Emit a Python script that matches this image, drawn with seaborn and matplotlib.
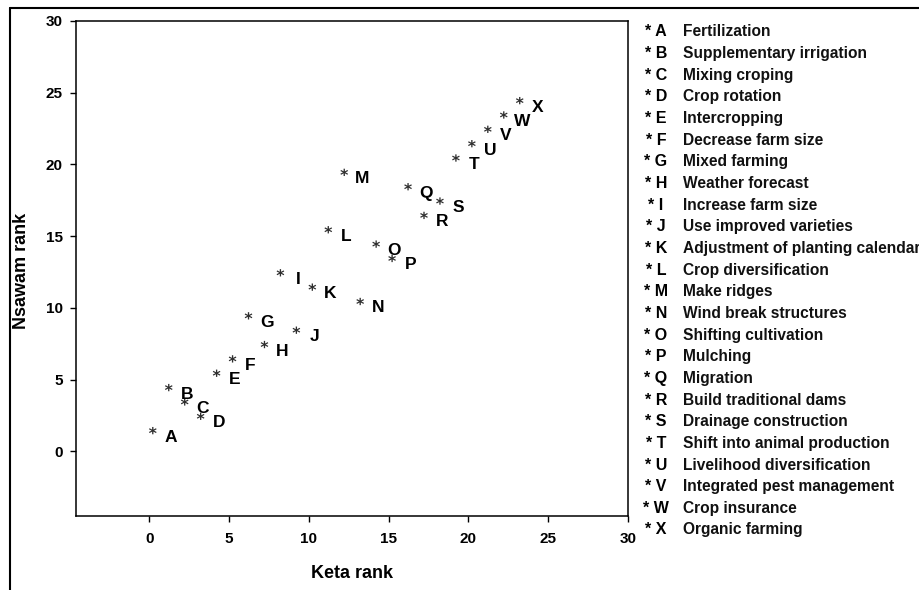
import matplotlib
matplotlib.use("Agg")
import matplotlib.pyplot as plt
import seaborn as sns
import pandas as pd
from matplotlib.markers import MarkerStyle
from matplotlib.transforms import Affine2D
from matplotlib.lines import Line2D

# Ranks of adaptation strategies in the two communities
codes = list("ABCDEFGHIJKLMNOPQRSTUVWX")
keta_rank = [1, 2, 3, 4, 5, 6, 7, 8, 9, 10, 11, 12,
             13, 14, 15, 16, 17, 18, 19, 20, 21, 22, 23, 24]
nsawam_rank = [1, 4, 3, 2, 5, 6, 9, 7, 12, 8, 11, 15,
               19, 10, 14, 13, 18, 16, 17, 20, 21, 22, 23, 24]
strategies = [
    "Fertilization", "Supplementary irrigation", "Mixing croping",
    "Crop rotation", "Intercropping", "Decrease farm size",
    "Mixed farming", "Weather forecast", "Increase farm size",
    "Use improved varieties", "Adjustment of planting calendar",
    "Crop diversification", "Make ridges", "Wind break structures",
    "Shifting cultivation", "Mulching", "Migration",
    "Build traditional dams", "Drainage construction",
    "Shift into animal production", "Livelihood diversification",
    "Integrated pest management", "Crop insurance", "Organic farming",
]
x_ticks = [0, 5, 10, 15, 20, 25, 30]
y_ticks = [0, 5, 10, 15, 20, 25, 30]

df = pd.DataFrame({"code": codes, "keta": keta_rank, "nsawam": nsawam_rank})

sns.set_theme(style="ticks")
plt.rcParams["font.family"] = ["Liberation Sans", "DejaVu Sans"]
plt.rcParams["font.weight"] = "bold"

W, H = 920, 590
fig = plt.figure(figsize=(W / 100, H / 100), dpi=100)
ax = fig.add_axes([76 / W, 1 - 516 / H, (628 - 76) / W, (516 - 21) / H])

# Asterisk marker sitting up and to the left of each point, letter to the right
star = MarkerStyle("$*$", transform=Affine2D().translate(-1.65, 0.85))
sns.scatterplot(data=df, x="keta", y="nsawam", marker=star, s=30,
                color="#2e2e2e", edgecolor="none", linewidth=0,
                legend=False, ax=ax)
for c, xv, yv in zip(df["code"], df["keta"], df["nsawam"]):
    ax.annotate(c, (xv, yv), xytext=(4.0, 0), textcoords="offset points",
                ha="center", va="center", fontsize=12.5,
                fontweight="bold", color="black")

ax.set_xlim(-4.6, 30)
ax.set_ylim(-4.5, 30)
ax.set_xticks(x_ticks)
ax.set_yticks(y_ticks)
ax.set_xticklabels([str(t) for t in x_ticks], fontsize=11,
                   fontweight="bold", color="black")
ax.set_yticklabels([str(t) for t in y_ticks], fontsize=11,
                   fontweight="bold", color="black")
ax.tick_params(axis="both", direction="out", length=4.5, width=1.0,
               color="black")
ax.tick_params(axis="x", pad=7)
ax.tick_params(axis="y", pad=5)
for sp in ax.spines.values():
    sp.set_visible(True)
    sp.set_color("black")
    sp.set_linewidth(1.1)
ax.set_xlabel("")
ax.set_ylabel("")

fig.text(352 / W, 1 - 573 / H, "Keta rank", ha="center", va="center",
         fontsize=13, fontweight="bold", color="black")
fig.text(22 / W, 1 - 271 / H, "Nsawam rank", ha="center", va="center",
         rotation=90, fontsize=13, fontweight="bold", color="black")

# Key of strategy codes on the right
row0, step = 32, 21.65
for i, (c, name) in enumerate(zip(codes, strategies)):
    yy = 1 - (row0 + i * step) / H
    fig.text(656 / W, yy, f"* {c}", ha="center", va="center",
             fontsize=11.5, fontweight="bold", color="black")
    fig.text(683 / W, yy, name, ha="left", va="center",
             fontsize=11.2, fontweight="bold", color="#111111")

# Outer frame lines along the top and left of the figure
fig.add_artist(Line2D([10 / W, 10 / W], [0, 1 - 8 / H], color="black",
                      linewidth=1.5, transform=fig.transFigure))
fig.add_artist(Line2D([10 / W, 1], [1 - 8 / H, 1 - 8 / H], color="black",
                      linewidth=1.5, transform=fig.transFigure))

fig.savefig("out.png", dpi=100, facecolor="white")
